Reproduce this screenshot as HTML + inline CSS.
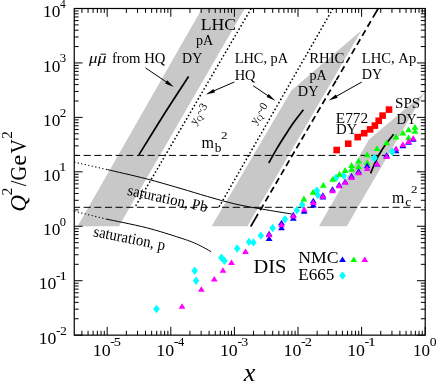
<!DOCTYPE html>
<html><head><meta charset="utf-8"><title>Q2 vs x</title>
<style>
html,body{margin:0;padding:0;background:#fff;}
body{width:436px;height:382px;overflow:hidden;font-family:"Liberation Serif",serif;}
svg{display:block;}
</style></head><body>
<svg width="436" height="382" viewBox="0 0 436 382" style="will-change:transform;font-kerning:none">
<polygon points="77.6,226.2 118.9,226.2 244.8,8.5 202.0,8.5" fill="#c8c8c8"/>
<polygon points="211.6,226.2 247.4,226.2 361.6,30.2 291.6,90.2" fill="#c8c8c8"/>
<polygon points="318.9,226.2 346.8,226.2 424.6,92.4 369.0,139.6" fill="#c8c8c8"/>
<line x1="74.2" y1="155.4" x2="425.2" y2="155.4" stroke="#000" stroke-width="1" stroke-dasharray="7.1 3.55" stroke-dashoffset="1.2"/>
<line x1="74.2" y1="207.3" x2="425.2" y2="207.3" stroke="#000" stroke-width="1" stroke-dasharray="7.1 3.55" stroke-dashoffset="1.2"/>
<path d="M107.40 169.60 C113.88 171.13 134.20 175.68 146.30 178.80 C158.40 181.92 169.80 185.35 180.00 188.30 C190.20 191.25 198.33 193.88 207.50 196.50 C216.67 199.12 225.82 201.88 235.00 204.00 C244.18 206.12 253.13 207.53 262.60 209.20 C272.07 210.87 286.93 213.20 291.80 214.00" fill="none" stroke="#000" stroke-width="1"/>
<path d="M106.00 219.00 C112.72 220.45 133.97 224.57 146.30 227.70 C158.63 230.83 171.63 235.10 180.00 237.80 C188.37 240.50 191.30 241.58 196.50 243.90 C201.70 246.22 208.75 250.40 211.20 251.70" fill="none" stroke="#000" stroke-width="1"/>
<line x1="74.2" y1="162.1" x2="107.4" y2="169.6" stroke="#000" stroke-width="1.1" stroke-dasharray="1.2 2.4"/>
<line x1="74.2" y1="211.2" x2="106" y2="219" stroke="#000" stroke-width="1.1" stroke-dasharray="1.2 2.4"/>
<line x1="251.2" y1="8.5" x2="134.9" y2="207.3" stroke="#000" stroke-width="1.5" stroke-dasharray="1.6 2.25"/>
<line x1="333.0" y1="8.5" x2="218.8" y2="207.3" stroke="#000" stroke-width="1.5" stroke-dasharray="1.6 2.25"/>
<path d="M378.20 8.50L372.88 17.60M370.77 21.20L367.50 26.80M365.50 30.22L362.22 35.82M360.22 39.24L356.95 44.84M354.95 48.26L351.67 53.86M349.67 57.28L346.40 62.88M344.39 66.30L341.12 71.90M339.12 75.32L336.44 79.90M335.94 80.75L332.67 86.35M330.77 89.60L327.49 95.20M325.59 98.45L322.32 104.05M320.42 107.30L317.14 112.90M315.24 116.15L311.96 121.75M310.06 125.00L306.79 130.60M304.89 133.85L301.61 139.45M299.71 142.70L296.44 148.30M294.54 151.55L291.26 157.15M289.36 160.40L286.08 166.00M284.18 169.25L280.91 174.85M279.01 178.10L275.73 183.70M273.83 186.95L270.56 192.55M268.66 195.80L265.38 201.40M263.48 204.65L260.20 210.25M258.01 214.00L250.70 226.50" fill="none" stroke="#000" stroke-width="1.7"/>
<path d="M138.90 154.90 C142.92 148.42 154.72 129.07 163.00 116.00 C171.28 102.93 184.33 83.08 188.60 76.50" fill="none" stroke="#000" stroke-width="1.7"/>
<path d="M268.80 163.00 C270.17 160.57 274.22 153.10 277.00 148.40 C279.78 143.70 282.67 139.20 285.50 134.80 C288.33 130.40 291.02 126.17 294.00 122.00 C296.98 117.83 301.83 111.83 303.40 109.80" fill="none" stroke="#000" stroke-width="1.7"/>
<path d="M370.60 173.40 C371.28 171.73 373.37 166.38 374.70 163.40 C376.03 160.42 376.88 158.52 378.60 155.50 C380.32 152.48 382.50 148.83 385.00 145.30 C387.50 141.77 392.17 136.13 393.60 134.30" fill="none" stroke="#000" stroke-width="1.7"/>
<rect x="333.4" y="146.7" width="6.6" height="6.6" fill="#ff0000"/>
<rect x="344.9" y="140.4" width="6.6" height="6.6" fill="#ff0000"/>
<rect x="354.4" y="133.8" width="6.6" height="6.6" fill="#ff0000"/>
<rect x="360.9" y="129.9" width="6.6" height="6.6" fill="#ff0000"/>
<rect x="366.8" y="126.1" width="6.6" height="6.6" fill="#ff0000"/>
<rect x="371.6" y="122.3" width="6.6" height="6.6" fill="#ff0000"/>
<rect x="375.4" y="117.5" width="6.6" height="6.6" fill="#ff0000"/>
<rect x="379.3" y="112.3" width="6.6" height="6.6" fill="#ff0000"/>
<rect x="385.7" y="106.3" width="6.6" height="6.6" fill="#ff0000"/>
<polygon points="156.5,304.8 159.8,309.0 156.5,313.2 153.2,309.0" fill="#00ffff"/>
<polygon points="194.7,266.6 197.9,270.8 194.7,275.0 191.4,270.8" fill="#00ffff"/>
<polygon points="196.1,276.5 199.3,280.7 196.1,284.9 192.8,280.7" fill="#00ffff"/>
<polygon points="221.4,253.6 224.7,257.8 221.4,262.0 218.2,257.8" fill="#00ffff"/>
<polygon points="224.4,256.5 227.7,260.7 224.4,264.9 221.2,260.7" fill="#00ffff"/>
<polygon points="237.2,244.3 240.4,248.5 237.2,252.7 233.9,248.5" fill="#00ffff"/>
<polygon points="249.0,237.7 252.2,241.9 249.0,246.1 245.8,241.9" fill="#00ffff"/>
<polygon points="253.4,238.2 256.6,242.4 253.4,246.6 250.2,242.4" fill="#00ffff"/>
<polygon points="260.8,231.4 264.1,235.6 260.8,239.8 257.6,235.6" fill="#00ffff"/>
<polygon points="272.7,223.8 275.9,228.0 272.7,232.2 269.4,228.0" fill="#00ffff"/>
<polygon points="285.0,215.0 288.2,219.2 285.0,223.4 281.8,219.2" fill="#00ffff"/>
<polygon points="296.8,206.1 300.1,210.3 296.8,214.5 293.6,210.3" fill="#00ffff"/>
<polygon points="302.1,200.5 305.4,204.7 302.1,208.9 298.9,204.7" fill="#00ffff"/>
<polygon points="316.9,186.4 320.1,190.6 316.9,194.8 313.6,190.6" fill="#00ffff"/>
<polygon points="317.9,190.8 321.1,195.0 317.9,199.2 314.6,195.0" fill="#00ffff"/>
<polygon points="336.2,173.5 339.4,177.7 336.2,181.9 332.9,177.7" fill="#00ffff"/>
<polygon points="343.9,171.7 347.1,175.9 343.9,180.1 340.6,175.9" fill="#00ffff"/>
<polygon points="374.4,153.9 377.6,158.1 374.4,162.3 371.1,158.1" fill="#00ffff"/>
<polygon points="392.4,147.5 395.6,151.7 392.4,155.9 389.1,151.7" fill="#00ffff"/>
<polygon points="303.9,195.6 307.3,201.4 300.5,201.4" fill="#00ff00"/>
<polygon points="313.0,188.9 316.4,194.8 309.6,194.8" fill="#00ff00"/>
<polygon points="323.3,181.9 326.7,187.8 319.9,187.8" fill="#00ff00"/>
<polygon points="332.7,176.0 336.1,181.8 329.3,181.8" fill="#00ff00"/>
<polygon points="339.5,171.0 342.9,176.8 336.1,176.8" fill="#00ff00"/>
<polygon points="345.1,167.1 348.5,172.9 341.7,172.9" fill="#00ff00"/>
<polygon points="351.6,162.1 355.0,167.9 348.2,167.9" fill="#00ff00"/>
<polygon points="351.6,165.9 355.0,171.8 348.2,171.8" fill="#00ff00"/>
<polygon points="358.6,157.7 362.0,163.5 355.2,163.5" fill="#00ff00"/>
<polygon points="358.6,163.4 362.0,169.2 355.2,169.2" fill="#00ff00"/>
<polygon points="367.2,151.5 370.6,157.3 363.8,157.3" fill="#00ff00"/>
<polygon points="367.2,159.5 370.6,165.3 363.8,165.3" fill="#00ff00"/>
<polygon points="377.0,145.2 380.4,151.1 373.6,151.1" fill="#00ff00"/>
<polygon points="386.6,139.4 390.0,145.2 383.2,145.2" fill="#00ff00"/>
<polygon points="396.0,133.6 399.4,139.4 392.6,139.4" fill="#00ff00"/>
<polygon points="402.9,129.8 406.3,135.6 399.5,135.6" fill="#00ff00"/>
<polygon points="408.6,126.4 412.0,132.2 405.2,132.2" fill="#00ff00"/>
<polygon points="408.6,134.4 412.0,140.2 405.2,140.2" fill="#00ff00"/>
<polygon points="415.0,123.8 418.4,129.8 411.6,129.8" fill="#00ff00"/>
<polygon points="415.0,128.0 418.4,133.8 411.6,133.8" fill="#00ff00"/>
<polygon points="269.1,230.8 272.5,236.3 265.7,236.3" fill="#0000ff"/>
<polygon points="269.1,235.6 272.5,241.1 265.7,241.1" fill="#0000ff"/>
<polygon points="281.5,219.8 284.9,225.2 278.1,225.2" fill="#0000ff"/>
<polygon points="281.5,224.7 284.9,230.2 278.1,230.2" fill="#0000ff"/>
<polygon points="293.3,211.8 296.7,217.3 289.9,217.3" fill="#0000ff"/>
<polygon points="293.3,215.3 296.7,220.8 289.9,220.8" fill="#0000ff"/>
<polygon points="304.2,208.2 307.6,213.7 300.8,213.7" fill="#0000ff"/>
<polygon points="313.3,197.7 316.7,203.2 309.9,203.2" fill="#0000ff"/>
<polygon points="313.3,201.9 316.7,207.4 309.9,207.4" fill="#0000ff"/>
<polygon points="322.9,192.2 326.3,197.8 319.5,197.8" fill="#0000ff"/>
<polygon points="322.9,194.1 326.3,199.6 319.5,199.6" fill="#0000ff"/>
<polygon points="332.5,186.2 335.9,191.7 329.1,191.7" fill="#0000ff"/>
<polygon points="339.2,181.8 342.6,187.3 335.8,187.3" fill="#0000ff"/>
<polygon points="345.1,178.8 348.5,184.2 341.7,184.2" fill="#0000ff"/>
<polygon points="351.6,172.9 355.0,178.4 348.2,178.4" fill="#0000ff"/>
<polygon points="358.6,168.2 362.0,173.8 355.2,173.8" fill="#0000ff"/>
<polygon points="367.2,162.8 370.6,168.3 363.8,168.3" fill="#0000ff"/>
<polygon points="377.0,161.1 380.4,166.6 373.6,166.6" fill="#0000ff"/>
<polygon points="386.6,152.3 390.0,157.8 383.2,157.8" fill="#0000ff"/>
<polygon points="396.0,147.7 399.4,153.2 392.6,153.2" fill="#0000ff"/>
<polygon points="402.9,142.7 406.3,148.2 399.5,148.2" fill="#0000ff"/>
<polygon points="408.6,139.3 412.0,144.8 405.2,144.8" fill="#0000ff"/>
<polygon points="413.2,136.2 416.6,141.7 409.8,141.7" fill="#0000ff"/>
<polygon points="182.0,303.2 185.4,308.8 178.6,308.8" fill="#ff00ff"/>
<polygon points="201.3,286.2 204.7,291.8 197.9,291.8" fill="#ff00ff"/>
<polygon points="214.3,276.1 217.7,281.6 210.9,281.6" fill="#ff00ff"/>
<polygon points="223.0,267.2 226.4,272.8 219.6,272.8" fill="#ff00ff"/>
<polygon points="231.5,259.6 234.9,265.1 228.1,265.1" fill="#ff00ff"/>
<polygon points="245.5,248.4 248.9,253.9 242.1,253.9" fill="#ff00ff"/>
<polygon points="269.1,231.8 272.5,237.3 265.7,237.3" fill="#ff00ff"/>
<polygon points="281.5,221.8 284.9,227.2 278.1,227.2" fill="#ff00ff"/>
<polygon points="293.3,212.8 296.7,218.2 289.9,218.2" fill="#ff00ff"/>
<polygon points="304.2,206.2 307.6,211.8 300.8,211.8" fill="#ff00ff"/>
<polygon points="313.3,199.4 316.7,204.9 309.9,204.9" fill="#ff00ff"/>
<polygon points="322.9,193.3 326.3,198.8 319.5,198.8" fill="#ff00ff"/>
<polygon points="332.5,187.8 335.9,193.2 329.1,193.2" fill="#ff00ff"/>
<polygon points="339.2,182.8 342.6,188.3 335.8,188.3" fill="#ff00ff"/>
<polygon points="345.1,179.3 348.5,184.8 341.7,184.8" fill="#ff00ff"/>
<polygon points="351.6,174.4 355.0,179.9 348.2,179.9" fill="#ff00ff"/>
<polygon points="358.6,169.8 362.0,175.3 355.2,175.3" fill="#ff00ff"/>
<polygon points="367.2,165.4 370.6,170.9 363.8,170.9" fill="#ff00ff"/>
<polygon points="377.0,160.7 380.4,166.2 373.6,166.2" fill="#ff00ff"/>
<polygon points="386.6,153.4 390.0,158.9 383.2,158.9" fill="#ff00ff"/>
<polygon points="396.0,145.4 399.4,150.9 392.6,150.9" fill="#ff00ff"/>
<polygon points="402.9,141.4 406.3,146.9 399.5,146.9" fill="#ff00ff"/>
<polygon points="408.6,138.6 412.0,144.1 405.2,144.1" fill="#ff00ff"/>
<polygon points="413.2,135.2 416.6,140.8 409.8,140.8" fill="#ff00ff"/>
<polygon points="374.4,153.9 377.6,158.1 374.4,162.3 371.1,158.1" fill="#00ffff"/>
<polygon points="392.4,147.5 395.6,151.7 392.4,155.9 389.1,151.7" fill="#00ffff"/>
<polygon points="342.5,256.6 345.9,262.1 339.1,262.1" fill="#0000ff"/>
<polygon points="353.8,256.6 357.2,262.1 350.4,262.1" fill="#00ff00"/>
<polygon points="364.8,256.6 368.2,262.1 361.4,262.1" fill="#ff00ff"/>
<polygon points="342.5,271.4 345.8,275.6 342.5,279.8 339.2,275.6" fill="#00ffff"/>
<path d="M81.89 335.15v-4.4M81.89 8.50v4.4M88.05 335.15v-4.4M88.05 8.50v4.4M93.09 335.15v-4.4M93.09 8.50v4.4M97.35 335.15v-4.4M97.35 8.50v4.4M101.04 335.15v-4.4M101.04 8.50v4.4M104.29 335.15v-4.4M104.29 8.50v4.4M107.20 335.15v-8.3M107.20 8.50v8.3M126.35 335.15v-4.4M126.35 8.50v4.4M137.54 335.15v-4.4M137.54 8.50v4.4M145.49 335.15v-4.4M145.49 8.50v4.4M151.65 335.15v-4.4M151.65 8.50v4.4M156.69 335.15v-4.4M156.69 8.50v4.4M160.95 335.15v-4.4M160.95 8.50v4.4M164.64 335.15v-4.4M164.64 8.50v4.4M167.89 335.15v-4.4M167.89 8.50v4.4M170.80 335.15v-8.3M170.80 8.50v8.3M189.95 335.15v-4.4M189.95 8.50v4.4M201.14 335.15v-4.4M201.14 8.50v4.4M209.09 335.15v-4.4M209.09 8.50v4.4M215.25 335.15v-4.4M215.25 8.50v4.4M220.29 335.15v-4.4M220.29 8.50v4.4M224.55 335.15v-4.4M224.55 8.50v4.4M228.24 335.15v-4.4M228.24 8.50v4.4M231.49 335.15v-4.4M231.49 8.50v4.4M234.40 335.15v-8.3M234.40 8.50v8.3M253.55 335.15v-4.4M253.55 8.50v4.4M264.74 335.15v-4.4M264.74 8.50v4.4M272.69 335.15v-4.4M272.69 8.50v4.4M278.85 335.15v-4.4M278.85 8.50v4.4M283.89 335.15v-4.4M283.89 8.50v4.4M288.15 335.15v-4.4M288.15 8.50v4.4M291.84 335.15v-4.4M291.84 8.50v4.4M295.09 335.15v-4.4M295.09 8.50v4.4M298.00 335.15v-8.3M298.00 8.50v8.3M317.15 335.15v-4.4M317.15 8.50v4.4M328.34 335.15v-4.4M328.34 8.50v4.4M336.29 335.15v-4.4M336.29 8.50v4.4M342.45 335.15v-4.4M342.45 8.50v4.4M347.49 335.15v-4.4M347.49 8.50v4.4M351.75 335.15v-4.4M351.75 8.50v4.4M355.44 335.15v-4.4M355.44 8.50v4.4M358.69 335.15v-4.4M358.69 8.50v4.4M361.60 335.15v-8.3M361.60 8.50v8.3M380.75 335.15v-4.4M380.75 8.50v4.4M391.94 335.15v-4.4M391.94 8.50v4.4M399.89 335.15v-4.4M399.89 8.50v4.4M406.05 335.15v-4.4M406.05 8.50v4.4M411.09 335.15v-4.4M411.09 8.50v4.4M415.35 335.15v-4.4M415.35 8.50v4.4M419.04 335.15v-4.4M419.04 8.50v4.4M422.29 335.15v-4.4M422.29 8.50v4.4M425.20 335.15v-8.3M425.20 8.50v8.3M74.25 335.15h8.3M425.20 335.15h-8.3M74.25 318.76h4.4M425.20 318.76h-4.4M74.25 309.17h4.4M425.20 309.17h-4.4M74.25 302.37h4.4M425.20 302.37h-4.4M74.25 297.10h4.4M425.20 297.10h-4.4M74.25 292.79h4.4M425.20 292.79h-4.4M74.25 289.14h4.4M425.20 289.14h-4.4M74.25 285.98h4.4M425.20 285.98h-4.4M74.25 283.20h4.4M425.20 283.20h-4.4M74.25 280.71h8.3M425.20 280.71h-8.3M74.25 264.32h4.4M425.20 264.32h-4.4M74.25 254.73h4.4M425.20 254.73h-4.4M74.25 247.93h4.4M425.20 247.93h-4.4M74.25 242.66h4.4M425.20 242.66h-4.4M74.25 238.34h4.4M425.20 238.34h-4.4M74.25 234.70h4.4M425.20 234.70h-4.4M74.25 231.54h4.4M425.20 231.54h-4.4M74.25 228.76h4.4M425.20 228.76h-4.4M74.25 226.27h8.3M425.20 226.27h-8.3M74.25 209.88h4.4M425.20 209.88h-4.4M74.25 200.29h4.4M425.20 200.29h-4.4M74.25 193.49h4.4M425.20 193.49h-4.4M74.25 188.21h4.4M425.20 188.21h-4.4M74.25 183.90h4.4M425.20 183.90h-4.4M74.25 180.26h4.4M425.20 180.26h-4.4M74.25 177.10h4.4M425.20 177.10h-4.4M74.25 174.32h4.4M425.20 174.32h-4.4M74.25 171.82h8.3M425.20 171.82h-8.3M74.25 155.44h4.4M425.20 155.44h-4.4M74.25 145.85h4.4M425.20 145.85h-4.4M74.25 139.05h4.4M425.20 139.05h-4.4M74.25 133.77h4.4M425.20 133.77h-4.4M74.25 129.46h4.4M425.20 129.46h-4.4M74.25 125.82h4.4M425.20 125.82h-4.4M74.25 122.66h4.4M425.20 122.66h-4.4M74.25 119.87h4.4M425.20 119.87h-4.4M74.25 117.38h8.3M425.20 117.38h-8.3M74.25 100.99h4.4M425.20 100.99h-4.4M74.25 91.41h4.4M425.20 91.41h-4.4M74.25 84.61h4.4M425.20 84.61h-4.4M74.25 79.33h4.4M425.20 79.33h-4.4M74.25 75.02h4.4M425.20 75.02h-4.4M74.25 71.37h4.4M425.20 71.37h-4.4M74.25 68.22h4.4M425.20 68.22h-4.4M74.25 65.43h4.4M425.20 65.43h-4.4M74.25 62.94h8.3M425.20 62.94h-8.3M74.25 46.55h4.4M425.20 46.55h-4.4M74.25 36.97h4.4M425.20 36.97h-4.4M74.25 30.16h4.4M425.20 30.16h-4.4M74.25 24.89h4.4M425.20 24.89h-4.4M74.25 20.58h4.4M425.20 20.58h-4.4M74.25 16.93h4.4M425.20 16.93h-4.4M74.25 13.78h4.4M425.20 13.78h-4.4M74.25 10.99h4.4M425.20 10.99h-4.4M74.25 8.50h8.3M425.20 8.50h-8.3" fill="none" stroke="#000" stroke-width="1"/>
<rect x="74.25" y="8.50" width="350.95" height="326.65" fill="none" stroke="#000" stroke-width="1.2"/>
<text transform="translate(40.30,343.90) scale(1.0192,1)" x="-1.53" y="0" font-family="Liberation Serif, serif" font-size="17.4">10</text>
<text transform="translate(56.50,334.50) scale(1.1549,1)" x="-0.45" y="0" font-family="Liberation Serif, serif" font-size="12">-</text>
<text transform="translate(60.50,334.50) scale(1.1433,1)" x="-0.53" y="0" font-family="Liberation Serif, serif" font-size="12">2</text>
<text transform="translate(40.30,289.46) scale(1.0192,1)" x="-1.53" y="0" font-family="Liberation Serif, serif" font-size="17.4">10</text>
<text transform="translate(56.50,280.06) scale(1.1549,1)" x="-0.45" y="0" font-family="Liberation Serif, serif" font-size="12">-</text>
<text transform="translate(60.50,280.06) scale(1.3019,1)" x="-1.05" y="0" font-family="Liberation Serif, serif" font-size="12">1</text>
<text transform="translate(44.60,235.02) scale(0.9929,1)" x="-1.53" y="0" font-family="Liberation Serif, serif" font-size="17.4">10</text>
<text transform="translate(60.30,225.62) scale(1.0421,1)" x="-0.46" y="0" font-family="Liberation Serif, serif" font-size="12">0</text>
<text transform="translate(44.60,180.57) scale(0.9929,1)" x="-1.53" y="0" font-family="Liberation Serif, serif" font-size="17.4">10</text>
<text transform="translate(60.30,171.17) scale(1.2546,1)" x="-1.05" y="0" font-family="Liberation Serif, serif" font-size="12">1</text>
<text transform="translate(44.60,126.13) scale(0.9929,1)" x="-1.53" y="0" font-family="Liberation Serif, serif" font-size="17.4">10</text>
<text transform="translate(60.30,116.73) scale(1.1017,1)" x="-0.53" y="0" font-family="Liberation Serif, serif" font-size="12">2</text>
<text transform="translate(44.60,71.69) scale(0.9929,1)" x="-1.53" y="0" font-family="Liberation Serif, serif" font-size="17.4">10</text>
<text transform="translate(60.30,62.29) scale(1.0692,1)" x="-0.57" y="0" font-family="Liberation Serif, serif" font-size="12">3</text>
<text transform="translate(44.60,17.25) scale(0.9929,1)" x="-1.53" y="0" font-family="Liberation Serif, serif" font-size="17.4">10</text>
<text transform="translate(60.30,7.85) scale(0.9501,1)" x="-0.23" y="0" font-family="Liberation Serif, serif" font-size="12">4</text>
<text transform="translate(94.30,355.60) scale(1.0258,1)" x="-1.53" y="0" font-family="Liberation Serif, serif" font-size="17.4">10</text>
<text transform="translate(110.70,345.90) scale(1.1870,1)" x="-0.45" y="0" font-family="Liberation Serif, serif" font-size="12">-</text>
<text transform="translate(114.70,345.90) scale(1.1998,1)" x="-0.70" y="0" font-family="Liberation Serif, serif" font-size="12">5</text>
<text transform="translate(157.90,355.60) scale(1.0258,1)" x="-1.53" y="0" font-family="Liberation Serif, serif" font-size="17.4">10</text>
<text transform="translate(174.30,345.90) scale(1.1870,1)" x="-0.45" y="0" font-family="Liberation Serif, serif" font-size="12">-</text>
<text transform="translate(178.30,345.90) scale(1.0398,1)" x="-0.23" y="0" font-family="Liberation Serif, serif" font-size="12">4</text>
<text transform="translate(221.50,355.60) scale(1.0258,1)" x="-1.53" y="0" font-family="Liberation Serif, serif" font-size="17.4">10</text>
<text transform="translate(237.90,345.90) scale(1.1870,1)" x="-0.45" y="0" font-family="Liberation Serif, serif" font-size="12">-</text>
<text transform="translate(241.90,345.90) scale(1.1701,1)" x="-0.57" y="0" font-family="Liberation Serif, serif" font-size="12">3</text>
<text transform="translate(285.10,355.60) scale(1.0258,1)" x="-1.53" y="0" font-family="Liberation Serif, serif" font-size="17.4">10</text>
<text transform="translate(301.50,345.90) scale(1.1870,1)" x="-0.45" y="0" font-family="Liberation Serif, serif" font-size="12">-</text>
<text transform="translate(305.50,345.90) scale(1.2057,1)" x="-0.53" y="0" font-family="Liberation Serif, serif" font-size="12">2</text>
<text transform="translate(348.70,355.60) scale(1.0258,1)" x="-1.53" y="0" font-family="Liberation Serif, serif" font-size="17.4">10</text>
<text transform="translate(365.10,345.90) scale(1.1870,1)" x="-0.45" y="0" font-family="Liberation Serif, serif" font-size="12">-</text>
<text transform="translate(369.10,345.90) scale(1.3729,1)" x="-1.05" y="0" font-family="Liberation Serif, serif" font-size="12">1</text>
<text transform="translate(414.50,355.60) scale(0.9797,1)" x="-1.53" y="0" font-family="Liberation Serif, serif" font-size="17.4">10</text>
<text transform="translate(430.20,345.90) scale(1.1404,1)" x="-0.46" y="0" font-family="Liberation Serif, serif" font-size="12">0</text>
<text transform="translate(243.40,381.10) scale(1.0599,1)" x="0.30" y="0" font-family="Liberation Serif, serif" font-size="24.6" font-style="italic">x</text>
<g transform="translate(25.7,211) rotate(-90)">
<text transform="translate(0.50,0.00) scale(0.9844,1)" x="-1.30" y="0" font-family="Liberation Serif, serif" font-size="23.5" font-style="italic">Q</text>
<text transform="translate(16.30,-14.20) scale(1.0477,1)" x="-0.66" y="0" font-family="Liberation Serif, serif" font-size="15">2</text>
<text transform="translate(24.70,0.00) scale(0.8883,1)" x="-0.00" y="0" font-family="Liberation Serif, serif" font-size="23.5">/</text>
<text transform="translate(31.20,0.00) scale(0.8577,1)" x="-0.96" y="0" font-family="Liberation Serif, serif" font-size="23.5">G</text>
<text transform="translate(46.10,0.00) scale(1.0577,1)" x="-0.92" y="0" font-family="Liberation Serif, serif" font-size="23.5">e</text>
<text transform="translate(57.70,0.00) scale(0.8453,1)" x="-0.26" y="0" font-family="Liberation Serif, serif" font-size="23.5">V</text>
<text transform="translate(72.90,-14.20) scale(0.9978,1)" x="-0.66" y="0" font-family="Liberation Serif, serif" font-size="15">2</text>
</g>
<text transform="translate(88.90,62.90) scale(1.1599,1)" x="0.01" y="0" font-family="Liberation Serif, serif" font-size="14.5" font-style="italic">μ</text>
<text transform="translate(97.60,62.90) scale(1.2333,1)" x="0.01" y="0" font-family="Liberation Serif, serif" font-size="14.5" font-style="italic">μ</text>
<line x1="100.4" y1="54.2" x2="106.0" y2="54.2" stroke="#000" stroke-width="0.9"/>
<text transform="translate(112.40,63.00) scale(1.0255,1)" x="-0.44" y="0" font-family="Liberation Serif, serif" font-size="14.34">from HQ</text>
<text transform="translate(201.20,29.85) scale(1.0627,1)" x="-0.48" y="0" font-family="Liberation Serif, serif" font-size="16.6">LHC</text>
<text transform="translate(196.30,44.60) scale(1.0306,1)" x="-0.22" y="0" font-family="Liberation Serif, serif" font-size="13.68">pA</text>
<text transform="translate(182.50,63.00) scale(0.9997,1)" x="-0.40" y="0" font-family="Liberation Serif, serif" font-size="13.96">DY</text>
<text transform="translate(235.10,63.10) scale(1.0258,1)" x="-0.40" y="0" font-family="Liberation Serif, serif" font-size="13.99">LHC, pA</text>
<text transform="translate(235.10,79.70) scale(1.0259,1)" x="-0.40" y="0" font-family="Liberation Serif, serif" font-size="14.01">HQ</text>
<text transform="translate(309.60,63.10) scale(1.0259,1)" x="-0.42" y="0" font-family="Liberation Serif, serif" font-size="14.42">RHIC</text>
<text transform="translate(309.60,79.70) scale(1.0253,1)" x="-0.22" y="0" font-family="Liberation Serif, serif" font-size="13.75">pA</text>
<text transform="translate(298.20,95.80) scale(1.0254,1)" x="-0.40" y="0" font-family="Liberation Serif, serif" font-size="13.96">DY</text>
<text transform="translate(362.10,62.90) scale(1.0257,1)" x="-0.41" y="0" font-family="Liberation Serif, serif" font-size="14.3">LHC, Ap</text>
<text transform="translate(362.10,79.30) scale(1.0254,1)" x="-0.40" y="0" font-family="Liberation Serif, serif" font-size="13.89">DY</text>
<text transform="translate(336.30,122.90) scale(1.0419,1)" x="-0.42" y="0" font-family="Liberation Serif, serif" font-size="14.68">E772</text>
<text transform="translate(336.30,133.80) scale(1.0414,1)" x="-0.41" y="0" font-family="Liberation Serif, serif" font-size="14.23">DY</text>
<text transform="translate(396.10,107.70) scale(1.0258,1)" x="-0.98" y="0" font-family="Liberation Serif, serif" font-size="14.69">SPS</text>
<text transform="translate(396.80,123.80) scale(1.0254,1)" x="-0.39" y="0" font-family="Liberation Serif, serif" font-size="13.61">DY</text>
<text transform="translate(254.00,272.60) scale(1.0754,1)" x="-0.55" y="0" font-family="Liberation Serif, serif" font-size="19.02">DIS</text>
<text transform="translate(298.70,263.30) scale(1.1114,1)" x="-0.46" y="0" font-family="Liberation Serif, serif" font-size="15.91">NMC</text>
<text transform="translate(298.70,280.20) scale(1.0751,1)" x="-0.46" y="0" font-family="Liberation Serif, serif" font-size="15.98">E665</text>
<text transform="translate(201.70,148.20) scale(0.9556,1)" x="-0.35" y="0" font-family="Liberation Serif, serif" font-size="16.8">m</text>
<text transform="translate(214.80,151.50) scale(1.0325,1)" x="-0.00" y="0" font-family="Liberation Serif, serif" font-size="13">b</text>
<text transform="translate(221.50,138.80) scale(1.2011,1)" x="-0.47" y="0" font-family="Liberation Serif, serif" font-size="10.8">2</text>
<text transform="translate(392.40,202.50) scale(0.9476,1)" x="-0.35" y="0" font-family="Liberation Serif, serif" font-size="16.8">m</text>
<text transform="translate(405.70,205.50) scale(1.1333,1)" x="-0.46" y="0" font-family="Liberation Serif, serif" font-size="12">c</text>
<text transform="translate(411.50,192.70) scale(1.2011,1)" x="-0.47" y="0" font-family="Liberation Serif, serif" font-size="10.8">2</text>
<text transform="translate(127.40,195.00) rotate(12.20) scale(0.9558,1)" x="-0.64" y="0" font-family="Liberation Serif, serif" font-size="15.5">saturation, Pb</text>
<text transform="translate(93.40,236.30) rotate(11.20) scale(0.9202,1)" x="-0.66" y="0" font-family="Liberation Serif, serif" font-size="16">saturation, p</text>
<g transform="translate(195.5,125.5) rotate(-58)"><text x="0" y="0" font-family="Liberation Serif, serif" font-size="11.5">y</text><text x="5.5" y="2.5" font-family="Liberation Serif, serif" font-size="8">Q</text><text x="11" y="0" font-family="Liberation Serif, serif" font-size="11.5">~3</text></g>
<g transform="translate(255.8,125) rotate(-58)"><text x="0" y="0" font-family="Liberation Serif, serif" font-size="11.5">y</text><text x="5.5" y="2.5" font-family="Liberation Serif, serif" font-size="8">Q</text><text x="11" y="0" font-family="Liberation Serif, serif" font-size="11.5">~0</text></g>
<line x1="145.5" y1="67.9" x2="167.0" y2="82.4" stroke="#000" stroke-width="1"/>
<polygon points="173.8,87.0 165.1,83.4 167.2,80.3" fill="#000"/>
<line x1="234.3" y1="82.0" x2="213.3" y2="91.1" stroke="#000" stroke-width="1"/>
<polygon points="205.8,94.4 213.5,89.0 215.0,92.5" fill="#000"/>
<line x1="253.1" y1="85.7" x2="268.5" y2="96.1" stroke="#000" stroke-width="1"/>
<polygon points="275.3,100.7 266.6,97.1 268.7,94.0" fill="#000"/>
<line x1="361.8" y1="82.0" x2="335.8" y2="96.6" stroke="#000" stroke-width="1"/>
<polygon points="328.7,100.6 335.8,94.4 337.7,97.7" fill="#000"/>
</svg>
</body></html>
